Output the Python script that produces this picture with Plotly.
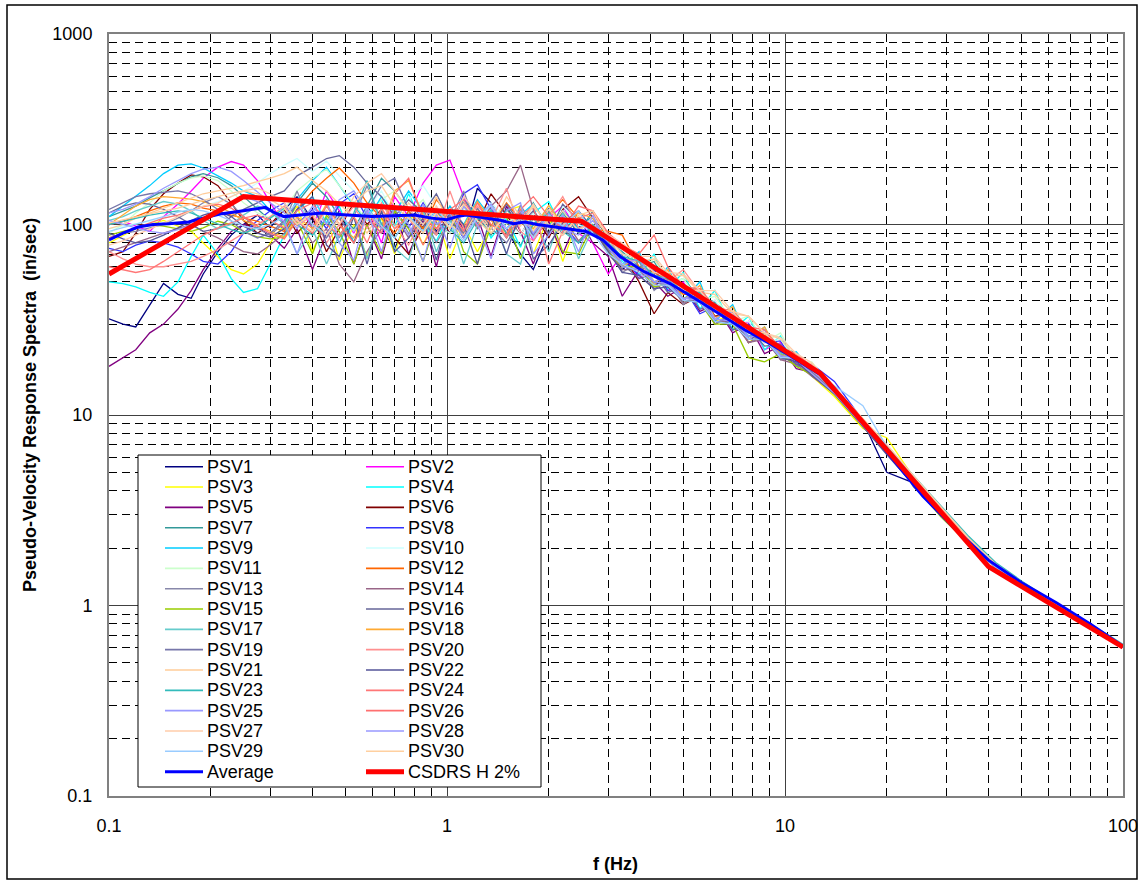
import plotly.graph_objects as go

# ---------------- data ----------------
FREQ = [0.100, 0.110, 0.120, 0.132, 0.145, 0.160, 0.175, 0.190, 0.210, 0.230, 0.250, 0.275, 0.300,
        0.330, 0.360, 0.400, 0.440, 0.480, 0.530, 0.580, 0.640, 0.700, 0.770, 0.850, 0.930, 1.02, 1.12,
        1.23, 1.35, 1.50, 1.65, 1.80, 2.00, 2.20, 2.45, 2.70,
        3.00, 3.30, 3.70, 4.10, 4.50, 5.00, 5.60, 6.20, 7.00, 7.80, 8.70, 9.70, 10.8, 12.0,
        14.0, 17.0, 20.0, 24.0, 29.0, 35.0, 42.0, 50.0, 60.0, 72.0, 85.0, 100.0]

PSV1 = [32, 30, 29, 38, 49, 43, 41, 55, 72, 88, 100, 112, 96,
        120, 140, 105, 88, 118, 80, 125, 95, 75, 105, 128, 92, 110, 85, 155, 130, 95, 70, 58, 90, 118, 96, 110,
        72, 58, 68, 48, 52, 40, 46, 33, 35, 25, 27, 21, 20, 17,
        13.6, 9.3, 5.0, 4.4, 3.0, 2.1, 1.6, 1.29, 1.05, 0.87, 0.73, 0.61]
PSV2 = [100, 104, 98, 92, 110, 128, 150, 175, 200, 214, 205, 170, 130,
        100, 130, 95, 150, 118, 90, 125, 80, 140, 110, 165, 205, 218, 140, 100, 125, 90, 115, 82, 108, 125, 90, 80,
        55, 70, 52, 60, 45, 50, 36, 40, 28, 31, 22, 24, 18.5, 17.5,
        13.2, 9.0, 6.8, 4.6, 3.2, 2.2, 1.62, 1.31, 1.07, 0.88, 0.74, 0.615]
PSV3 = [80, 88, 95, 100, 105, 98, 92, 80, 68, 58, 55, 62, 80,
        100, 125, 72, 110, 65, 100, 68, 108, 70, 118, 78, 112, 66, 100, 72, 98, 118, 125, 70, 110, 64, 108, 92,
        80, 62, 70, 50, 55, 41, 44, 31, 34, 24, 27, 20, 21, 16,
        12.5, 8.5, 7.6, 4.7, 3.15, 2.15, 1.6, 1.3, 1.06, 0.87, 0.73, 0.61]
PSV4 = [50, 49, 47, 44, 42, 50, 68, 88, 70, 52, 44, 46, 62,
        88, 118, 140, 102, 125, 80, 112, 135, 98, 145, 100, 82, 115, 90, 122, 85, 108, 76, 115, 132, 95, 110, 88,
        85, 64, 55, 70, 46, 56, 36, 45, 28, 33, 22, 26, 18, 18.5,
        13.4, 9.1, 6.7, 4.6, 3.2, 2.25, 1.65, 1.32, 1.07, 0.88, 0.74, 0.62]
PSV5 = [18, 20, 22, 27, 30, 36, 45, 58, 75, 92, 100, 96, 88,
        75, 95, 58, 90, 110, 62, 100, 66, 118, 70, 106, 60, 120, 95, 110, 68, 125, 92, 62, 104, 70, 110, 80,
        68, 42, 58, 50, 42, 47, 35, 38, 27, 30, 21, 23, 17.5, 16.8,
        13.0, 8.8, 6.4, 4.4, 3.05, 2.12, 1.58, 1.29, 1.05, 0.86, 0.72, 0.605]
PSV6 = [68, 72, 90, 120, 145, 165, 182, 178, 160, 130, 105, 90, 100,
        120, 90, 110, 72, 95, 130, 100, 120, 85, 70, 98, 118, 90, 125, 100, 145, 112, 88, 115, 85, 120, 140, 108,
        88, 70, 50, 34, 44, 38, 42, 30, 33, 24, 26, 20, 19.5, 16.2,
        13.2, 9.0, 6.5, 4.5, 3.1, 2.15, 1.6, 1.3, 1.06, 0.87, 0.73, 0.61]
PSV7 = [110, 118, 125, 138, 150, 165, 178, 185, 176, 160, 140, 120, 105,
        95, 130, 165, 140, 110, 95, 125, 175, 150, 118, 95, 120, 100, 135, 110, 88, 120, 100, 130, 95, 115, 90, 118,
        82, 72, 60, 64, 48, 52, 41, 39, 33, 28, 27, 23, 21, 17.8,
        13.8, 9.4, 6.8, 4.7, 3.2, 2.2, 1.63, 1.32, 1.07, 0.88, 0.74, 0.615]
PSV8 = [75, 72, 78, 82, 80, 76, 70, 64, 62, 72, 90, 105, 118,
        130, 100, 120, 95, 128, 145, 108, 90, 118, 96, 130, 102, 90, 145, 162, 120, 95, 115, 88, 124, 100, 80, 98,
        74, 66, 54, 58, 45, 47, 34, 37, 28, 30, 24, 24.5, 18, 18.5,
        15.0, 9.4, 6.3, 4.5, 3.1, 2.12, 1.6, 1.3, 1.06, 0.87, 0.73, 0.61]
PSV9 = [110, 125, 140, 160, 185, 205, 208, 198, 180, 165, 150, 140, 118,
        100, 135, 170, 200, 160, 125, 105, 140, 115, 150, 118, 95, 125, 100, 135, 108, 85, 112, 128, 98, 118, 95, 110,
        78, 60, 72, 48, 60, 40, 50, 31, 38, 25, 29, 20, 21.5, 17,
        13.3, 9.0, 6.6, 4.6, 3.2, 2.2, 1.62, 1.31, 1.07, 0.88, 0.74, 0.615]
PSV10 = [95, 98, 100, 104, 108, 112, 118, 125, 132, 140, 150, 165, 185,
         205, 222, 190, 215, 180, 150, 120, 150, 110, 135, 160, 125, 100, 125, 95, 130, 108, 88, 115, 95, 125, 100, 92,
         85, 70, 58, 60, 47, 52, 38, 40, 30, 31, 24, 25, 19, 17.8,
         13.5, 9.2, 6.7, 4.6, 3.15, 2.2, 1.62, 1.31, 1.07, 0.88, 0.74, 0.615]
PSV11 = [90, 100, 115, 130, 150, 165, 175, 180, 170, 150, 130, 115, 108,
         120, 150, 175, 195, 160, 128, 105, 135, 150, 115, 135, 100, 90, 120, 95, 128, 100, 118, 92, 125, 98, 110, 100,
         80, 76, 58, 66, 50, 52, 40, 42, 31, 33, 24, 27, 19, 19,
         13.4, 9.1, 6.6, 4.6, 3.15, 2.18, 1.62, 1.31, 1.07, 0.88, 0.74, 0.615]
PSV12 = [100, 104, 110, 118, 125, 130, 128, 122, 118, 112, 108, 104, 98,
         92, 120, 150, 175, 198, 165, 130, 108, 90, 118, 95, 135, 110, 88, 120, 98, 130, 105, 85, 112, 135, 108, 95,
         92, 88, 60, 56, 51, 43, 43, 33, 33, 27, 26, 21.5, 20, 16.8,
         13.1, 8.9, 6.5, 4.5, 3.1, 2.15, 1.6, 1.3, 1.06, 0.87, 0.73, 0.61]
PSV13 = [85, 90, 92, 96, 100, 108, 118, 130, 140, 128, 110, 95, 88,
         102, 150, 95, 118, 85, 110, 160, 100, 120, 90, 112, 80, 105, 150, 95, 110, 85, 126, 100, 118, 88, 105, 95,
         74, 56, 64, 45, 52, 38, 44, 30, 34, 24, 26, 19.5, 20, 16,
         13.2, 8.9, 6.5, 4.5, 3.1, 2.15, 1.6, 1.3, 1.06, 0.87, 0.73, 0.61]
PSV14 = [72, 76, 80, 85, 90, 95, 100, 92, 85, 78, 72, 70, 78,
         90, 110, 80, 95, 62, 50, 72, 95, 112, 85, 120, 90, 110, 130, 95, 125, 150, 205, 120, 88, 110, 82, 98,
         70, 58, 58, 46, 50, 39, 41, 31, 31, 24, 25, 19.5, 18.5, 16,
         13.0, 8.8, 6.5, 4.5, 3.1, 2.15, 1.6, 1.3, 1.06, 0.87, 0.73, 0.61]
PSV15 = [88, 92, 96, 100, 98, 95, 92, 96, 104, 100, 92, 86, 84,
         86, 105, 70, 112, 92, 62, 100, 70, 118, 95, 64, 105, 118, 72, 62, 98, 110, 66, 100, 115, 72, 70, 100,
         72, 60, 60, 47, 49, 40, 39, 30, 30, 20, 19, 21, 18, 16.3,
         12.8, 8.7, 6.3, 4.3, 2.9, 2.1, 1.58, 1.29, 1.05, 0.86, 0.72, 0.605]
PSV16 = [115, 125, 130, 128, 120, 110, 100, 92, 95, 110, 120, 130, 140,
         150, 180, 200, 222, 230, 200, 165, 140, 110, 135, 115, 145, 105, 88, 115, 95, 128, 100, 118, 90, 128, 105, 92,
         78, 62, 52, 55, 44, 47, 36, 37, 28, 29, 23, 23.5, 18.5, 17.5,
         13.5, 9.4, 6.9, 4.2, 2.95, 2.1, 1.6, 1.31, 1.08, 0.89, 0.74, 0.615]
PSV17 = [105, 110, 118, 125, 132, 128, 118, 105, 95, 100, 112, 125, 118,
         100, 70, 95, 62, 88, 110, 66, 122, 75, 65, 118, 72, 108, 62, 100, 120, 70, 62, 110, 72, 115, 66, 95,
         88, 70, 66, 56, 55, 45, 46, 35, 34, 27, 27, 21, 20.5, 17.5,
         13.6, 9.3, 6.8, 4.7, 3.25, 2.25, 1.65, 1.33, 1.08, 0.89, 0.74, 0.62]
PSV18 = [100, 112, 125, 135, 140, 138, 136, 132, 125, 115, 105, 98, 92,
         86, 110, 95, 128, 100, 85, 115, 95, 150, 170, 112, 95, 120, 98, 132, 105, 90, 116, 95, 126, 100, 115, 108,
         80, 60, 68, 48, 58, 40, 48, 32, 37, 25, 29, 20.5, 21, 17,
         13.2, 9.0, 6.6, 4.6, 3.15, 2.18, 1.62, 1.31, 1.07, 0.88, 0.74, 0.615]
PSV19 = [120, 130, 140, 145, 148, 150, 145, 135, 120, 105, 92, 85, 90,
         105, 130, 100, 85, 110, 80, 118, 160, 175, 120, 100, 88, 112, 90, 122, 96, 80, 105, 88, 112, 95, 80, 94,
         76, 60, 58, 50, 48, 41, 41, 32, 31, 26, 25, 20.5, 19.5, 16.8,
         13.2, 9.0, 6.5, 4.5, 3.1, 2.15, 1.6, 1.3, 1.06, 0.87, 0.73, 0.61]
PSV20 = [72, 66, 62, 60, 60, 62, 64, 68, 74, 82, 90, 100, 110,
         125, 98, 112, 80, 100, 125, 95, 130, 100, 78, 110, 88, 150, 95, 125, 105, 155, 92, 82, 108, 140, 96, 100,
         84, 66, 64, 60, 50, 58, 44, 36, 34, 28, 27, 22, 20.5, 17.8,
         13.7, 9.3, 6.7, 4.6, 3.2, 2.2, 1.63, 1.31, 1.07, 0.88, 0.74, 0.615]
PSV21 = [95, 100, 108, 115, 122, 130, 138, 145, 150, 155, 160, 168, 175,
         185, 200, 170, 150, 128, 110, 90, 118, 95, 130, 105, 140, 100, 88, 118, 95, 140, 110, 92, 120, 100, 118, 95,
         86, 78, 64, 66, 54, 54, 44, 43, 34, 33, 27, 25, 20, 18.5,
         13.9, 9.5, 6.9, 4.7, 3.25, 2.25, 1.65, 1.33, 1.08, 0.89, 0.74, 0.62]
PSV22 = [90, 84, 80, 82, 88, 96, 105, 112, 118, 110, 98, 90, 86,
         95, 120, 140, 78, 68, 110, 62, 118, 72, 85, 108, 65, 120, 100, 62, 112, 70, 120, 66, 78, 102, 118, 95,
         72, 56, 54, 46, 47, 40, 39, 31, 30, 25, 25, 20, 19, 16.3,
         12.9, 8.7, 6.2, 4.3, 3.0, 2.1, 1.6, 1.3, 1.06, 0.87, 0.73, 0.61]
PSV23 = [100, 104, 108, 112, 115, 118, 115, 108, 100, 94, 90, 96, 108,
         122, 100, 88, 108, 80, 115, 170, 100, 85, 110, 92, 120, 95, 80, 106, 118, 90, 78, 100, 115, 92, 80, 100,
         80, 68, 64, 54, 52, 44, 44, 35, 33, 26, 27, 21.5, 20, 17.5,
         13.8, 9.5, 6.9, 4.8, 3.3, 2.3, 1.68, 1.35, 1.09, 0.9, 0.75, 0.625]
PSV24 = [60, 58, 56, 58, 64, 72, 80, 88, 96, 102, 108, 112, 105,
         96, 118, 130, 100, 88, 110, 80, 122, 95, 110, 78, 105, 120, 135, 98, 115, 85, 110, 125, 62, 92, 108, 115,
         86, 76, 68, 56, 55, 46, 45, 36, 35, 28, 27, 22, 20.5, 17.5,
         13.6, 9.2, 6.7, 4.6, 3.2, 2.2, 1.63, 1.31, 1.07, 0.88, 0.74, 0.615]
PSV25 = [115, 120, 128, 140, 155, 170, 185, 195, 200, 190, 170, 148, 130,
         115, 95, 125, 100, 135, 150, 118, 95, 110, 88, 128, 100, 115, 85, 110, 128, 95, 118, 90, 114, 95, 88, 105,
         80, 62, 66, 50, 54, 40, 46, 32, 35, 25, 28, 20, 20.5, 17.2,
         13.5, 9.1, 6.6, 4.6, 3.15, 2.2, 1.62, 1.31, 1.07, 0.88, 0.74, 0.615]
PSV26 = [85, 90, 96, 102, 108, 112, 118, 124, 128, 122, 110, 98, 90,
         84, 105, 90, 125, 100, 80, 110, 90, 145, 175, 108, 95, 118, 92, 130, 100, 88, 120, 140, 110, 95, 125, 118,
         90, 78, 70, 88, 60, 47, 46, 37, 35, 29, 28, 22.5, 21, 18,
         13.8, 9.3, 6.7, 4.6, 3.2, 2.2, 1.63, 1.31, 1.07, 0.88, 0.74, 0.615]
PSV27 = [78, 82, 88, 95, 102, 110, 118, 125, 130, 140, 150, 155, 145,
         130, 105, 92, 118, 100, 140, 165, 185, 150, 120, 100, 125, 95, 140, 115, 90, 112, 100, 128, 96, 118, 92, 110,
         88, 80, 68, 68, 56, 55, 45, 45, 35, 33, 27, 25.5, 21, 18.8,
         14.0, 9.6, 7.0, 4.8, 3.3, 2.25, 1.65, 1.33, 1.08, 0.89, 0.74, 0.62]
PSV28 = [105, 100, 96, 92, 90, 94, 100, 108, 118, 130, 140, 132, 118,
         104, 70, 118, 135, 80, 65, 118, 72, 125, 100, 64, 115, 75, 125, 100, 66, 118, 130, 70, 88, 112, 72, 112,
         76, 60, 58, 50, 49, 41, 40, 32, 31, 26, 25.5, 20.5, 19.5, 16.6,
         13.0, 8.8, 6.4, 4.4, 3.05, 2.12, 1.58, 1.29, 1.05, 0.86, 0.72, 0.605]
PSV29 = [92, 96, 100, 105, 110, 116, 120, 118, 112, 104, 98, 95, 100,
         110, 130, 100, 88, 115, 92, 122, 98, 85, 110, 92, 120, 100, 82, 110, 125, 95, 108, 85, 112, 98, 118, 90,
         70, 62, 56, 48, 48, 40, 39, 31, 30, 25, 25, 20, 20, 17.2,
         14.2, 11.2, 6.8, 4.5, 3.1, 2.15, 1.6, 1.3, 1.06, 0.87, 0.73, 0.61]
PSV30 = [102, 106, 110, 114, 118, 122, 128, 134, 140, 146, 150, 145, 135,
         122, 100, 115, 88, 108, 130, 150, 160, 125, 108, 90, 115, 95, 128, 105, 90, 115, 98, 125, 100, 88, 112, 118,
         85, 70, 66, 56, 55, 45, 45, 36, 35, 27.5, 27, 22, 20.5, 17.6,
         13.6, 9.2, 6.7, 4.6, 3.2, 2.2, 1.63, 1.31, 1.07, 0.88, 0.74, 0.615]

AVG_F = [0.1, 0.11, 0.122, 0.135, 0.15, 0.172, 0.19, 0.216, 0.25, 0.29,
         0.31, 0.33, 0.38, 0.426, 0.48, 0.534, 0.6, 0.7, 0.8, 0.9,
         1.0, 1.07, 1.14, 1.3, 1.45, 1.57, 1.7, 1.85, 2.0, 2.2,
         2.58, 2.89, 3.25, 3.8, 4.57, 5.4, 6.39, 7.6, 8.98, 10.35,
         12.7, 15, 19.5, 25.6, 32, 40, 50, 63.7, 80, 100]
AVG_V = [83, 90, 97, 100, 101, 103, 108, 114, 118, 123,
         115, 110, 113, 115, 113, 112, 110, 111, 112, 108,
         106, 110, 112, 108, 105, 101, 103, 100, 98, 95,
         92, 83, 68, 57, 49, 41, 34, 28, 23.8, 20.5,
         16.3, 11.8, 6.8, 3.75, 2.5, 1.73, 1.32, 1.03, 0.8, 0.61]

CSDRS_F = [0.1, 0.25, 2.5, 12.7, 40, 100]
CSDRS_V = [55, 140, 104, 16.6, 1.6, 0.605]

PSV_NAMES = ["PSV%d" % i for i in range(1, 31)]
PSV_COLORS = ['#000080', '#FF00FF', '#FFFF00', '#00FFFF', '#800080', '#800000', '#339999', '#3333FF',
              '#00CCFF', '#CCFFFF', '#CCFFCC', '#FF6600', '#8888AA', '#996688', '#99CC00', '#666699',
              '#66CCCC', '#FFAA33', '#7777AA', '#FF9090', '#FFCC99', '#555599', '#33BBBB', '#FF7777',
              '#9999FF', '#FF7070', '#FFCCAA', '#9999FF', '#99CCFF', '#FFD0A0']
PSV_SERIES = [PSV1, PSV2, PSV3, PSV4, PSV5, PSV6, PSV7, PSV8, PSV9, PSV10,
              PSV11, PSV12, PSV13, PSV14, PSV15, PSV16, PSV17, PSV18, PSV19, PSV20,
              PSV21, PSV22, PSV23, PSV24, PSV25, PSV26, PSV27, PSV28, PSV29, PSV30]

for nm, s in zip(PSV_NAMES, PSV_SERIES):
    if len(s) != len(FREQ):
        raise ValueError("%s has %d values, expected %d" % (nm, len(s), len(FREQ)))

# ---------------- figure ----------------
W, H = 1143, 884
ML, MR, MT, MB = 109, 20, 34, 88
PW, PH = W - ML - MR, H - MT - MB
FONT = "Liberation Sans, Arial, sans-serif"


def px(xs):
    """screen x (px) -> paper x"""
    return (xs - ML) / PW


def py(ys):
    """screen y (px) -> paper y"""
    return (H - MB - ys) / PH


fig = go.Figure()
for nm, s, c in zip(PSV_NAMES, PSV_SERIES, PSV_COLORS):
    fig.add_trace(go.Scatter(x=FREQ, y=s, mode="lines", name=nm,
                             line=dict(color=c, width=1.3), showlegend=False))
fig.add_trace(go.Scatter(x=AVG_F, y=AVG_V, mode="lines", name="Average",
                         line=dict(color="#0000FF", width=3), showlegend=False))
fig.add_trace(go.Scatter(x=CSDRS_F, y=CSDRS_V, mode="lines", name="CSDRS H 2%",
                         line=dict(color="#FF0000", width=5), showlegend=False))

axis_common = dict(
    type="log", showgrid=True, gridcolor="#404040", gridwidth=1,
    minor=dict(dtick="D1", showgrid=True, gridcolor="#000000", griddash="8px,5px", gridwidth=1, ticks=""),
    showline=True, mirror=True, linecolor="#808080", linewidth=2,
    ticks="outside", tickcolor="rgba(0,0,0,0)", zeroline=False,
    tickfont=dict(family=FONT, size=18, color="black"),
)
fig.update_xaxes(range=[-1, 2], tickvals=[0.1, 1, 10, 100], ticktext=["0.1", "1", "10", "100"],
                 ticklen=12, **axis_common)
fig.update_yaxes(range=[-1, 3], tickvals=[0.1, 1, 10, 100, 1000],
                 ticktext=["0.1", "1", "10", "100", "1000"], ticklen=11, **axis_common)

shapes = [
    # outer chart frame
    dict(type="rect", xref="paper", yref="paper", x0=px(7), x1=px(1137), y0=py(879), y1=py(5),
         line=dict(color="black", width=1.5), fillcolor="rgba(0,0,0,0)", layer="above"),
    # legend box
    dict(type="rect", xref="paper", yref="paper", x0=px(138), x1=px(541), y0=py(787), y1=py(455),
         line=dict(color="black", width=1), fillcolor="white", layer="above"),
]
annotations = []

legend_names = PSV_NAMES + ["Average", "CSDRS H 2%"]
legend_colors = PSV_COLORS + ["#0000FF", "#FF0000"]
legend_widths = [1.6] * 30 + [3, 5]
for k, (nm, c, lw) in enumerate(zip(legend_names, legend_colors, legend_widths)):
    row, col = k // 2, k % 2
    yr = 466.7 + 20.33 * row
    x0, x1, xt = (165, 203, 205) if col == 0 else (366, 404, 406)
    shapes.append(dict(type="line", xref="paper", yref="paper", x0=px(x0), x1=px(x1), y0=py(yr), y1=py(yr),
                       line=dict(color=c, width=lw), layer="above"))
    annotations.append(dict(text=nm, xref="paper", yref="paper", x=px(xt), y=py(yr), xanchor="left",
                            yanchor="middle", showarrow=False, font=dict(family=FONT, size=18, color="black")))

annotations.append(dict(text="<b>Pseudo-Velocity Response Spectra\u00a0 (in/sec)</b>", xref="paper", yref="paper",
                        x=px(30), y=py(405), textangle=-90, showarrow=False, xanchor="center", yanchor="middle",
                        font=dict(family=FONT, size=18, color="black")))
annotations.append(dict(text="<b>f (Hz)</b>", xref="paper", yref="paper", x=px(615), y=py(864),
                        showarrow=False, xanchor="center", yanchor="middle",
                        font=dict(family=FONT, size=18, color="black")))

fig.update_layout(width=W, height=H, margin=dict(l=ML, r=MR, t=MT, b=MB, autoexpand=False),
                  paper_bgcolor="white", plot_bgcolor="white", showlegend=False,
                  shapes=shapes, annotations=annotations, font=dict(family=FONT))

# remove the browser's default 8px page margin so the figure fills the window exactly
fig.write_html("out.html", config={"displayModeBar": False},
               post_script="document.body.style.margin='0';document.body.style.overflow='hidden';")
